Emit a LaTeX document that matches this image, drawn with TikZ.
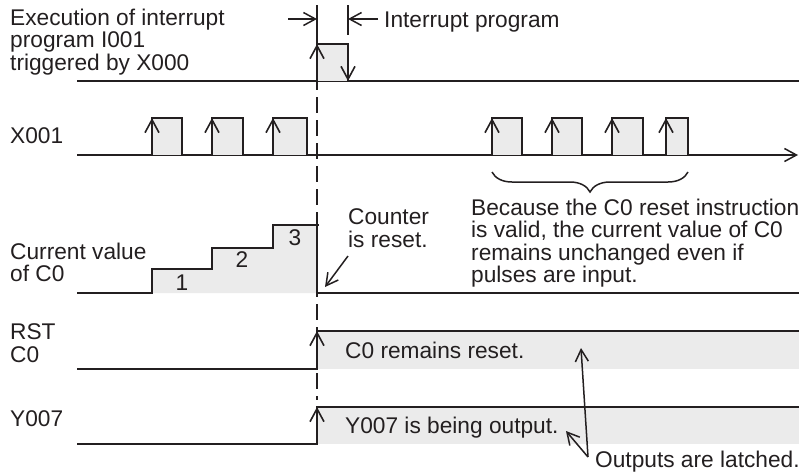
\documentclass[tikz,border=0pt]{standalone}
\usepackage{fontspec}
\setmainfont{Liberation Sans}
\usetikzlibrary{arrows.meta,decorations.pathreplacing}
\definecolor{pgray}{HTML}{EBEBEB}
\definecolor{ink}{HTML}{231F20}
\tikzset{
  wave/.style={draw=ink,line width=2.6pt,line join=miter},
  pfill/.style={fill=pgray},
  tipline/.style={draw=ink,line width=1.6pt,-{Straight Barb[length=13pt,width=14pt]}},
  arr/.style={draw=ink,line width=1.5pt,-{Straight Barb[length=12pt,width=13pt]}},
  lbl/.style={inner sep=0pt,text=ink,font=\fontsize{22.7}{22.5}\selectfont,align=left},
  guide/.style={draw=ink,line width=2.2pt,dash pattern=on 16pt off 7pt},
}
\newcommand\mypulse[4]{%
  \fill[pfill] (#1,#3) rectangle (#2,#4);
  \draw[wave] (#1,#4) -- (#1,#3) -- (#2,#3) -- (#2,#4);
  \draw[tipline] (#1,#3+16) -- (#1,#3);
}
\begin{document}
\begin{tikzpicture}[x=1pt,y=-1pt]
\useasboundingbox (0,0) rectangle (799,475);
% fills
\fill[pfill] (152,293) -- (152,269) -- (212,269) -- (212,248) -- (273,248) -- (273,225) -- (317,225) -- (317,293) -- cycle;
\fill[pfill] (317,331) rectangle (799,369);
\fill[pfill] (317,407) rectangle (799,444);
% guide
\draw[guide] (317,5) -- (317,400);
\draw[draw=ink,line width=1.8pt] (317,5) -- (317,35);
\draw[draw=ink,line width=1.8pt] (348,5) -- (348,35);
\coordinate (ml) at (288,19);
\coordinate (mr) at (378,19);
\coordinate (m1) at (317,19);
\coordinate (m2) at (348,19);
\draw[arr] (ml) -- (m1);
\draw[arr] (mr) -- (m2);
\node[lbl,anchor=base west] (ip) at (384,27) {Interrupt program};
% row 1
\draw[wave] (77,81) -- (799,81);
\mypulse{317}{348}{44}{81}
\draw[tipline] (348,65) -- (348,81);
% row 2
\draw[wave,-{Straight Barb[length=12pt,width=13pt,line width=1.5pt]}] (77,155) -- (798,155);
\mypulse{152}{182}{118}{155}
\mypulse{212}{243}{118}{155}
\mypulse{273}{307}{118}{155}
\mypulse{492}{522}{118}{155}
\mypulse{552}{582}{118}{155}
\mypulse{612}{643}{118}{155}
\mypulse{666}{688}{118}{155}
% row 3
\draw[wave] (77,293) -- (152,293) -- (152,269) -- (212,269) -- (212,248) -- (273,248) -- (273,225) -- (319,225);
\draw[wave] (317,225) -- (317,293);
\draw[wave] (317,293) -- (799,293);
\node[lbl,anchor=base] (n1) at (182,290) {1};
\node[lbl,anchor=base] (n2) at (242,267) {2};
\node[lbl,anchor=base] (n3) at (295,245) {3};
% row 4
\draw[wave] (77,369) -- (317,369) -- (317,331) -- (799,331);
\draw[tipline] (317,347) -- (317,331);
% row 5
\draw[wave] (77,444) -- (317,444) -- (317,407) -- (799,407);
\draw[tipline] (317,423) -- (317,407);
% labels
\node[lbl,anchor=north west] (lab1) at (10,8.5) {Execution of interrupt\\program I001\\triggered by X000};
\node[lbl,anchor=base west] (lab2) at (10,143) {X001};
\node[lbl,anchor=north west] (lab3) at (10,242.5) {Current value\\of C0};
\node[lbl,anchor=north west] (lab4) at (10,323.5) {RST\\C0};
\node[lbl,anchor=base west] (lab5) at (10,426) {Y007};
% counter reset
\node[lbl,anchor=north west] (cnt) at (348,208.5) {Counter\\is reset.};
\coordinate (cfrom) at (348,256);
\coordinate (cto) at (325,287);
\draw[arr] (cfrom) -- (cto);
% brace
\draw[draw=ink,line width=1.5pt,decorate,decoration={brace,mirror,amplitude=20pt}] (492,172) -- (688,172);
\node[lbl,anchor=north west] (because) at (471,198.5) {Because the C0 reset instruction\\is valid, the current value of C0\\remains unchanged even if\\pulses are input.};
% outputs
\node[lbl,anchor=base west] (rst) at (345,358) {C0 remains reset.};
\node[lbl,anchor=base west] (yout) at (345,433) {Y007 is being output.};
\node[lbl,anchor=base west] (latched) at (595,467) {Outputs are latched.};
\coordinate (lat) at (588,457);
\coordinate (t1) at (581,348);
\coordinate (t2) at (566,431);
\draw[arr] (lat) -- (t1);
\draw[arr] (lat) -- (t2);
\end{tikzpicture}
\end{document}
